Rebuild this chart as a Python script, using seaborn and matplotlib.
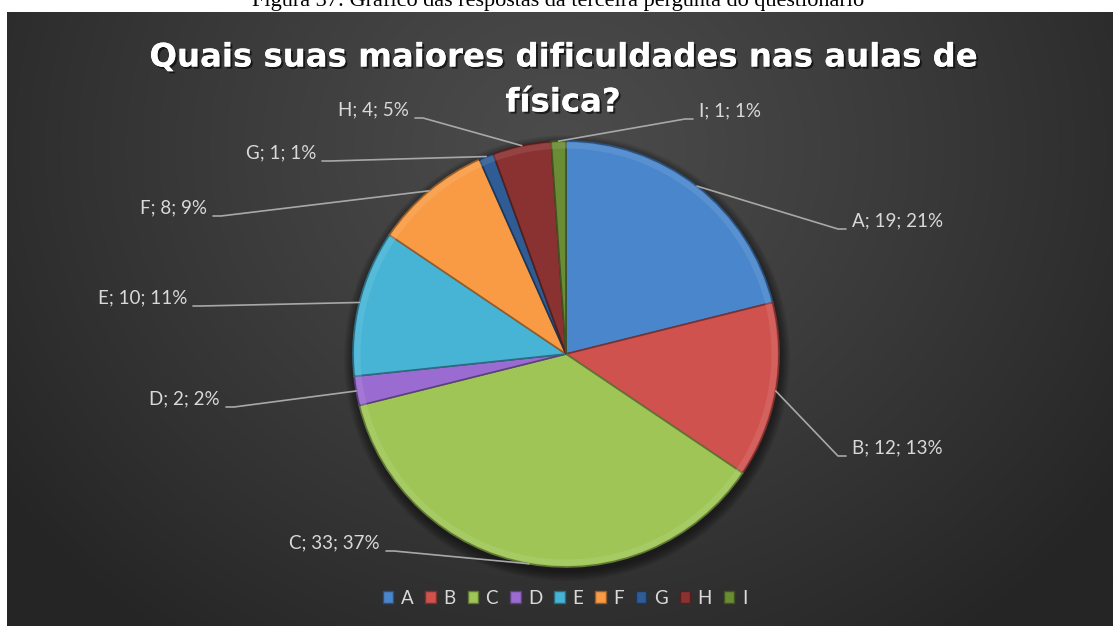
import numpy as np
import matplotlib
matplotlib.use("Agg")
import matplotlib.pyplot as plt
import matplotlib.patheffects as pe
from matplotlib.patches import Patch, Wedge, Circle
from matplotlib.colors import to_rgb
import seaborn as sns

# ---- data -------------------------------------------------------------
categories = ["A", "B", "C", "D", "E", "F", "G", "H", "I"]
counts = [19, 12, 33, 2, 10, 8, 1, 4, 1]
percent_labels = ["21%", "13%", "37%", "2%", "11%", "9%", "1%", "5%", "1%"]
colors = ["#4a86cc", "#d0524e", "#9ec556", "#9a6bd0", "#47b4d6",
          "#f99b45", "#2f5c94", "#8a3232", "#6a8c34"]

title_lines = ["Quais suas maiores dificuldades nas aulas de", "física?"]
caption = "Figura 37: Gráfico das respostas da terceira pergunta do questionário"

# label placement in pixel units: side of the pie, anchor x, text centre y
label_layout = {
    "A": ("right", 852, 221), "B": ("right", 852, 448),
    "C": ("left", 380, 543), "D": ("left", 220, 399),
    "E": ("left", 187, 298), "F": ("left", 207, 208),
    "G": ("left", 316, 153), "H": ("left", 409, 110),
    "I": ("right", 699, 111),
}

sns.set_theme(style="white")
plt.rcParams["font.family"] = ["Lato", "DejaVu Sans"]

W, H = 1115, 626
fig = plt.figure(figsize=(W / 100, H / 100), dpi=100)
fig.patch.set_facecolor("white")

# dark panel with a soft radial gradient
x0, x1, ytop = 7, 1113, 12
bg = fig.add_axes([x0 / W, 0, (x1 - x0) / W, (H - ytop) / H])
gx, gy = np.meshgrid(np.linspace(0, 1, 400), np.linspace(0, 1, 240))
rr = np.sqrt(((gx - 0.5) / 0.62) ** 2 + ((gy - 0.22) / 1.0) ** 2)
val = (0x4b - (0x4b - 0x25) * np.clip(rr, 0, 1) ** 1.2) / 255.0
bg.imshow(np.dstack([val, val, val]), extent=[0, 1, 0, 1], origin="upper",
          aspect="auto", interpolation="bicubic")
bg.set_axis_off()

# figure caption running along the top edge
fig.text(558 / W, 1 - 6 / H, caption, ha="center", va="baseline",
         fontsize=16, family="Liberation Serif", color="black")

# main drawing axes in pixel units (y measured upwards)
ax = fig.add_axes([0, 0, 1, 1])
ax.set_facecolor("none")

cx, cy_px, R = 566, 354, 213
cy = H - cy_px

# soft shadow beneath the pie
for k in range(10):
    ax.add_patch(Circle((cx + 1, cy - 4), R + 10 - k, facecolor="black",
                        edgecolor="none", alpha=0.05, zorder=1))


def shade(c, f):
    r, g, b = to_rgb(c)
    if f < 1:
        return (r * f, g * f, b * f)
    return (r + (1 - r) * (f - 1), g + (1 - g) * (f - 1), b + (1 - b) * (f - 1))


wedges, _ = ax.pie(counts, colors=colors, startangle=90, counterclock=False,
                   center=(cx, cy), radius=R,
                   wedgeprops=dict(linewidth=1.2, zorder=2))
for w, c in zip(wedges, colors):
    w.set_edgecolor(shade(c, 0.6))
    # bevel highlight along the rim
    ax.add_patch(Wedge((cx, cy), R - 1.5, w.theta1, w.theta2, width=6,
                       facecolor=shade(c, 1.22), edgecolor="none",
                       alpha=0.4, zorder=3))

# data labels with leader lines
total = sum(counts)
cum = np.cumsum(counts)
for cat, n, pct, end in zip(categories, counts, percent_labels, cum):
    mid = (end - n / 2) / total
    ang = np.deg2rad(90 - 360 * mid)
    ex, ey = cx + R * np.cos(ang), cy + R * np.sin(ang)
    side, lx, lcy = label_layout[cat]
    ly = H - (lcy + 8)
    if side == "right":
        kx, tx = lx - 14, lx - 6
        ha = "left"
    else:
        kx, tx = lx + 14, lx + 6
        ha = "right"
    ax.plot([ex, kx, tx], [ey, ly, ly], color="#a8a8a8", lw=1.2, zorder=4)
    ax.text(lx, H - lcy, f"{cat}; {n}; {pct}", ha=ha, va="center",
            fontsize=13.5, color="#d9d9d9", zorder=5)

ax.set_xlim(0, W)
ax.set_ylim(0, H)
ax.set_aspect("auto")
ax.set_position([0, 0, 1, 1])
ax.set_axis_off()

# title
shadow = [pe.withSimplePatchShadow(offset=(1.5, -1.5), shadow_rgbFace="black",
                                   alpha=0.6), pe.Normal()]
for line, ty in zip(title_lines, [58, 103]):
    fig.text(563 / W, 1 - ty / H, line, ha="center", va="center",
             fontsize=23.3, fontweight="bold", family="DejaVu Sans",
             color="white", path_effects=shadow)

# legend
handles = [Patch(facecolor=c, edgecolor=shade(c, 0.6), label=cat)
           for cat, c in zip(categories, colors)]
fig.legend(handles=handles, loc="center", bbox_to_anchor=(565 / W, 1 - 598 / H),
           ncol=9, frameon=False, handlelength=0.55, handleheight=0.55,
           handletextpad=0.4, columnspacing=0.65, fontsize=13.5,
           labelcolor="#d9d9d9")

fig.savefig("out.png", dpi=100)
